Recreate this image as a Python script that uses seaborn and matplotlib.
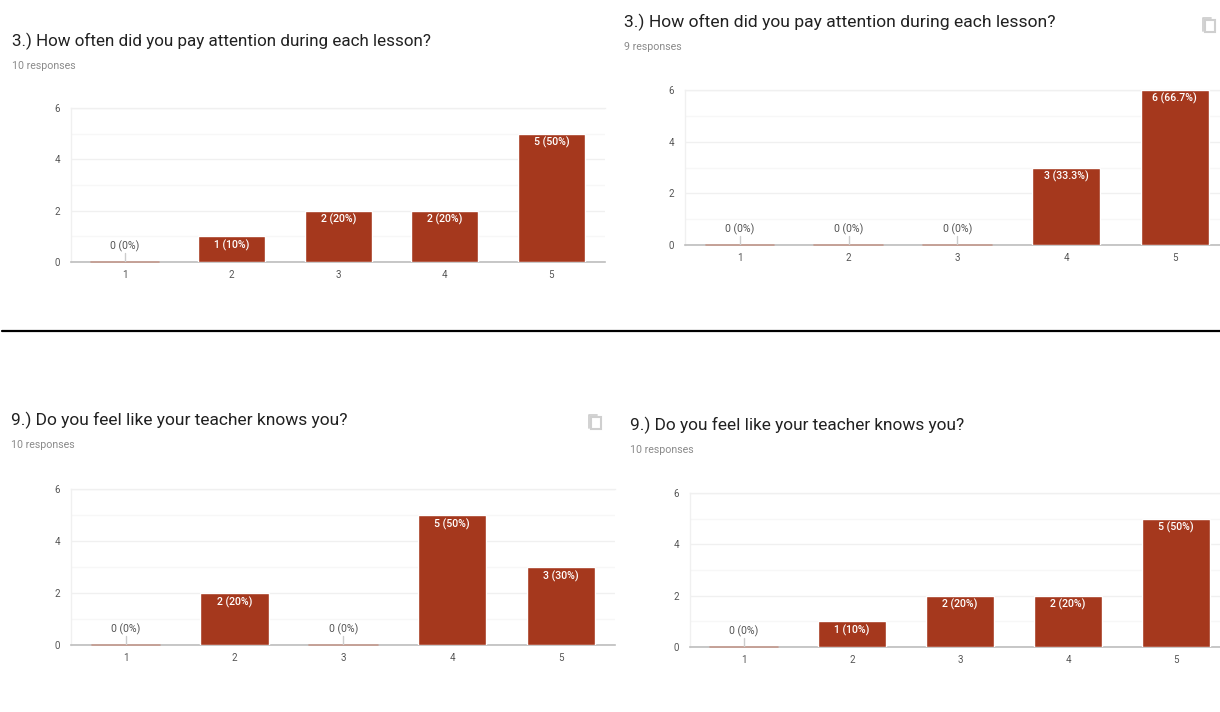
import seaborn as sns
import matplotlib.pyplot as plt
from matplotlib.patches import Rectangle
from matplotlib.lines import Line2D

W = 1220
H = 712

answers = [1, 2, 3, 4, 5]
attention_before = [0, 1, 2, 2, 5]
attention_after = [0, 0, 0, 3, 6]
teacher_before = [0, 2, 0, 5, 3]
teacher_after = [0, 1, 2, 2, 5]

attention_before_labels = ['0 (0%)', '1 (10%)', '2 (20%)', '2 (20%)', '5 (50%)']
attention_after_labels = ['0 (0%)', '0 (0%)', '0 (0%)', '3 (33.3%)', '6 (66.7%)']
teacher_before_labels = ['0 (0%)', '2 (20%)', '0 (0%)', '5 (50%)', '3 (30%)']
teacher_after_labels = ['0 (0%)', '1 (10%)', '2 (20%)', '2 (20%)', '5 (50%)']

attention_title = '3.) How often did you pay attention during each lesson?'
teacher_title = '9.) Do you feel like your teacher knows you?'

BAR_COLOR = '#a5381d'
GRID_COLOR = '#f0f0f0'

sns.set_theme(style='white')
plt.rcParams['font.family'] = ['Roboto', 'DejaVu Sans']

fig = plt.figure(figsize=(W / 100, H / 100), dpi=100, facecolor='white')


def draw_panel(values, labels, title, responses, box, centers, title_pos, sub_pos, title_size):
    # box is left, right, top, bottom in image pixels
    left, right, top, bottom = box
    ax = fig.add_axes([left / W, 1 - bottom / H, (right - left) / W, (bottom - top) / H])
    spacing = (centers[1] - centers[0])

    sns.barplot(x=answers, y=values, order=answers, color=BAR_COLOR, saturation=1,
                width=0.63, ax=ax, zorder=3)

    ax.set_xlim((left - centers[0]) / spacing, (right - centers[0]) / spacing)
    ax.set_ylim(0, 6)
    ax.set_yticks([0, 2, 4, 6])
    ax.set_yticks([1, 3, 5], minor=True)
    ax.grid(True, axis='y', which='major', color=GRID_COLOR, lw=1, zorder=0)
    ax.grid(True, axis='y', which='minor', color='#f7f7f7', lw=1, zorder=0)
    ax.set_xlabel('')
    ax.set_ylabel('')
    ax.tick_params(axis='both', which='both', length=0, labelsize=7, labelcolor='#555555')
    ax.tick_params(axis='x', pad=6)
    ax.tick_params(axis='y', pad=8)

    for name, spine in ax.spines.items():
        spine.set_visible(name == 'bottom' or name == 'left' or name == 'top')
        spine.set_color(GRID_COLOR)
        spine.set_linewidth(1)
    ax.spines['bottom'].set_color('#bdbdbd')
    ax.spines['bottom'].set_linewidth(1.2)

    for i, (v, label) in enumerate(zip(values, labels)):
        if v == 0:
            # empty answers get a thin bar, a leader and a grey label
            ax.plot([i - 0.315, i + 0.315], [0, 0], color='#c49a8e', lw=1.2, zorder=4, clip_on=False)
            ax.plot([i, i], [0, 0.36], color='#cccccc', lw=1, zorder=4)
            ax.text(i, 0.4, label, ha='center', va='bottom', fontsize=7.6, color='#555555')
        else:
            ax.text(i, v - 0.12, label, ha='center', va='top', fontsize=7.6, color='white',
                    fontweight='medium', zorder=5)

    fig.text(title_pos[0] / W, 1 - title_pos[1] / H, title, fontsize=title_size,
             color='#212121', ha='left', va='center')
    fig.text(sub_pos[0] / W, 1 - sub_pos[1] / H, responses, fontsize=7.7,
             color='#8a8a8a', ha='left', va='center')
    return ax


def draw_copy_icon(x, y):
    # the two overlapping sheets of the copy button
    fig.add_artist(Line2D([(x - 5) / W, (x - 5) / W, (x + 3) / W],
                          [1 - (y + 6) / H, 1 - (y - 7) / H, 1 - (y - 7) / H],
                          color='#cfcfcf', lw=1.3))
    fig.add_artist(Rectangle(((x - 3) / W, 1 - (y + 7) / H), 10 / W, 12 / H,
                             transform=fig.transFigure, fill=False, ec='#cfcfcf', lw=1.5))


draw_panel(attention_before, attention_before_labels, attention_title, '10 responses',
           (71, 605, 108, 262), [125, 231.6, 338.2, 444.8, 551.4], (12, 41), (12, 66), 12.28)
draw_panel(attention_after, attention_after_labels, attention_title, '9 responses',
           (685, 1220, 90, 245), [740, 848.7, 957.4, 1066.1, 1174.8], (624, 22), (624, 47), 12.59)
draw_panel(teacher_before, teacher_before_labels, teacher_title, '10 responses',
           (71, 615, 489, 645), [126, 234.7, 343.4, 452.1, 560.8], (11, 420), (11, 445), 12.5)
draw_panel(teacher_after, teacher_after_labels, teacher_title, '10 responses',
           (690, 1220, 493, 647), [744, 852, 960, 1068, 1176], (630, 425), (630, 450), 12.42)

draw_copy_icon(1208, 25)
draw_copy_icon(594, 422)

# black rule between the two rows
fig.add_artist(Line2D([2 / W, 1220 / W], [1 - 331.5 / H, 1 - 331.5 / H], color='black', lw=1.6))

fig.savefig('out.png', dpi=100, facecolor='white')
